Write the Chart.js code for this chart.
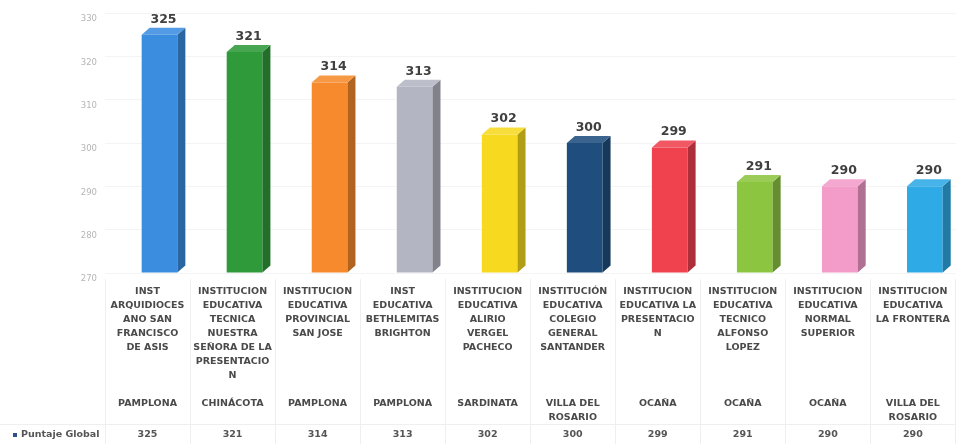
<!DOCTYPE html>
<html>
<head>
<meta charset="utf-8">
<script src="https://cdn.jsdelivr.net/npm/chart.js@4.4.0/dist/chart.umd.min.js"></script>
<style>
  html, body { margin: 0; padding: 0; background: #fff; overflow: hidden; }
  #wrap { width: 956px; height: 444px; overflow: hidden; position: relative; }
  #puntajes { position: absolute; left: 0; top: 0; }
</style>
</head>
<body>
<div id="wrap"><canvas id="puntajes" width="962" height="444"></canvas></div>
<script>
// datos
const colegios = [
    ['INST', 'ARQUIDIOCES', 'ANO SAN', 'FRANCISCO', 'DE ASIS'],
    ['INSTITUCION', 'EDUCATIVA', 'TECNICA', 'NUESTRA', 'SEÑORA DE LA', 'PRESENTACIO', 'N'],
    ['INSTITUCION', 'EDUCATIVA', 'PROVINCIAL', 'SAN JOSE'],
    ['INST', 'EDUCATIVA', 'BETHLEMITAS', 'BRIGHTON'],
    ['INSTITUCION', 'EDUCATIVA', 'ALIRIO', 'VERGEL', 'PACHECO'],
    ['INSTITUCIÓN', 'EDUCATIVA', 'COLEGIO', 'GENERAL', 'SANTANDER'],
    ['INSTITUCION', 'EDUCATIVA LA', 'PRESENTACIO', 'N'],
    ['INSTITUCION', 'EDUCATIVA', 'TECNICO', 'ALFONSO', 'LOPEZ'],
    ['INSTITUCION', 'EDUCATIVA', 'NORMAL', 'SUPERIOR'],
    ['INSTITUCION', 'EDUCATIVA', 'LA FRONTERA']
];
const ciudades = [
    ['PAMPLONA'], ['CHINÁCOTA'], ['PAMPLONA'], ['PAMPLONA'], ['SARDINATA'],
    ['VILLA DEL', 'ROSARIO'], ['OCAÑA'], ['OCAÑA'], ['OCAÑA'], ['VILLA DEL', 'ROSARIO']
];
const puntajes = [325, 321, 314, 313, 302, 300, 299, 291, 290, 290];
const ticksY = [270, 280, 290, 300, 310, 320, 330];
const serie = 'Puntaje Global';

const colores = ['#3b8de0', '#2f9a3a', '#f68a2c', '#b3b5c3', '#f7da1f',
                 '#1f4e7e', '#f0414f', '#8cc540', '#f39cca', '#2eaae6'];

// nombre arriba, ciudad en la fila 9 de la tabla
const etiquetas = colegios.map((c, i) => {
    const l = c.slice();
    while (l.length < 8) l.push('');
    return l.concat(ciudades[i]);
});

const DESPLAZ = 12;   // corrimiento de la perspectiva 3D
const PROF = 8;
const PROF_Y = 7;

function mezcla(hex, f) {
    const n = parseInt(hex.slice(1), 16);
    const c = [(n >> 16) & 255, (n >> 8) & 255, n & 255].map(v =>
        Math.round(f < 1 ? v * f : v + (255 - v) * (f - 1)));
    return 'rgb(' + c.join(',') + ')';
}

const barras3d = {
    id: 'barras3d',
    beforeDatasetsDraw(chart) {
        chart.ctx.save();
        chart.ctx.translate(DESPLAZ, 0);
    },
    afterDatasetsDraw(chart) {
        const ctx = chart.ctx;
        chart.getDatasetMeta(0).data.forEach((bar, i) => {
            const { x, y, base, width } = bar.getProps(['x', 'y', 'base', 'width'], true);
            const l = x - width / 2, r = x + width / 2;
            ctx.fillStyle = mezcla(colores[i], 0.72);
            ctx.beginPath();
            ctx.moveTo(r, y);
            ctx.lineTo(r + PROF, y - PROF_Y);
            ctx.lineTo(r + PROF, base - PROF_Y);
            ctx.lineTo(r, base);
            ctx.closePath();
            ctx.fill();
            ctx.fillStyle = mezcla(colores[i], 1.12);
            ctx.beginPath();
            ctx.moveTo(l, y);
            ctx.lineTo(l + PROF, y - PROF_Y);
            ctx.lineTo(r + PROF, y - PROF_Y);
            ctx.lineTo(r, y);
            ctx.closePath();
            ctx.fill();
            ctx.fillStyle = '#404040';
            ctx.font = 'bold 12.5px "DejaVu Sans"';
            ctx.textAlign = 'center';
            ctx.textBaseline = 'bottom';
            ctx.fillText(puntajes[i], x + PROF / 2, y - PROF_Y - 2);
        });
        ctx.restore();
    },
    afterDraw(chart) {
        const ctx = chart.ctx;
        const xs = chart.scales.x;
        const paso = xs.getPixelForValue(1) - xs.getPixelForValue(0);
        const yFila = chart.height - 9;
        ctx.save();
        ctx.strokeStyle = '#efefef';
        ctx.lineWidth = 1;
        for (let i = 0; i <= puntajes.length; i++) {
            const px = Math.round(xs.getPixelForValue(i) - paso / 2) + 0.5;
            ctx.beginPath();
            ctx.moveTo(px, chart.chartArea.bottom + 6);
            ctx.lineTo(px, chart.height);
            ctx.stroke();
        }
        ctx.beginPath();
        ctx.moveTo(0, yFila - 10.5);
        ctx.lineTo(chart.width, yFila - 10.5);
        ctx.stroke();
        ctx.font = 'bold 9.5px "DejaVu Sans"';
        ctx.textBaseline = 'middle';
        ctx.fillStyle = '#2f4f8f';
        ctx.fillRect(13, yFila - 2, 4, 4);
        ctx.fillStyle = '#555';
        ctx.textAlign = 'left';
        ctx.fillText(serie, 21, yFila);
        ctx.textAlign = 'center';
        puntajes.forEach((v, i) => ctx.fillText(v, xs.getPixelForValue(i), yFila));
        ctx.restore();
    }
};

new Chart(document.getElementById('puntajes'), {
    type: 'bar',
    data: {
        labels: etiquetas,
        datasets: [{
            label: serie,
            data: puntajes,
            base: 270,
            backgroundColor: colores,
            categoryPercentage: 1,
            barPercentage: 0.42
        }]
    },
    options: {
        responsive: false,
        animation: false,
        layout: { padding: { top: 11, right: 1, left: 0, bottom: 0 } },
        plugins: {
            legend: { display: false },
            tooltip: { enabled: false }
        },
        scales: {
            x: {
                grid: { display: false, drawTicks: false },
                border: { display: false },
                ticks: {
                    autoSkip: false,
                    maxRotation: 0,
                    minRotation: 0,
                    padding: 12,
                    color: '#4a4a4a',
                    font: { family: 'DejaVu Sans', size: 9.5, weight: 'bold', lineHeight: 14 / 9.5 }
                },
                afterFit(s) { s.height = 171; }
            },
            y: {
                min: 270,
                max: 330,
                afterBuildTicks(s) { s.ticks = ticksY.map(v => ({ value: v })); },
                grid: { color: '#f4f4f4', drawTicks: false },
                border: { display: false },
                ticks: {
                    padding: 8,
                    labelOffset: 6,
                    color: '#b5b5b5',
                    font: { family: 'DejaVu Sans', size: 8.5 }
                },
                afterFit(s) { s.width = 105; }
            }
        }
    },
    plugins: [barras3d]
});
</script>
</body>
</html>
